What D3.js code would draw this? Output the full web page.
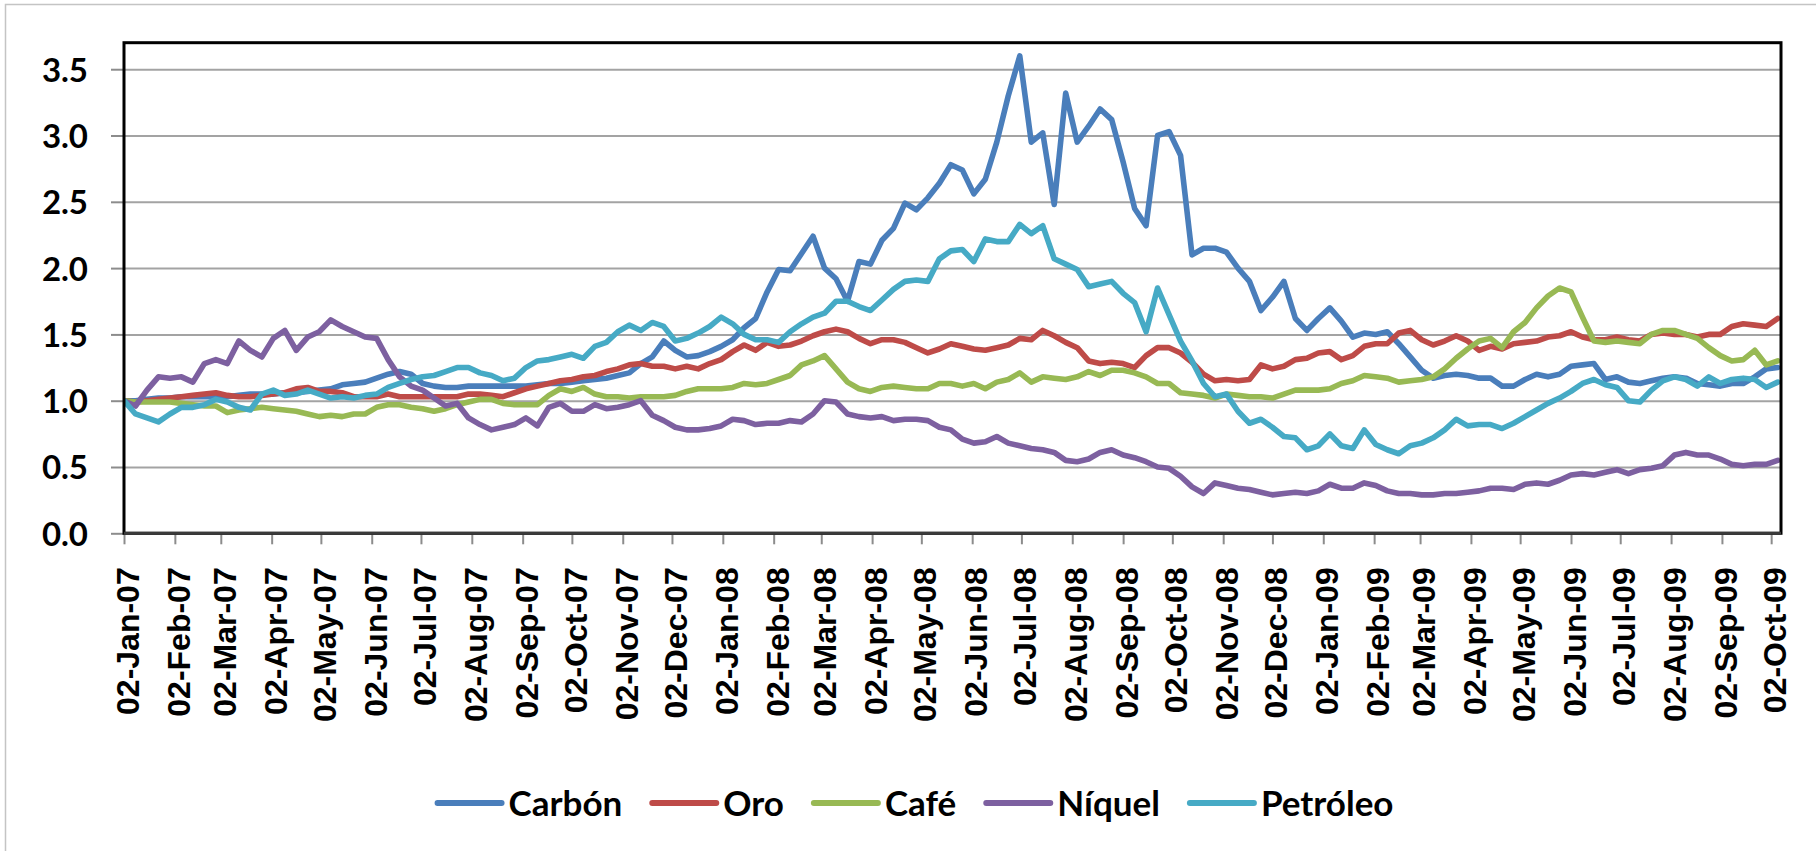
<!DOCTYPE html>
<html>
<head>
<meta charset="utf-8">
<script src="https://cdn.jsdelivr.net/npm/d3@7"></script>
<style>
html,body{margin:0;padding:0;background:#fff;overflow:hidden}
</style>
</head>
<body>
<svg id="chart" width="1816" height="851"></svg>
<script>
// ---------------- DATA ----------------
const seriesNames = ["Carbón", "Oro", "Café", "Níquel", "Petróleo"];
const startDate = "2007-01-02";      // first observation
const stepDays = 7;                  // weekly sampling of the daily series
const endDate = "2009-10-08";        // end of the date axis

const carbon = [
1.00,1.00,1.01,1.02,1.02,1.03,1.03,1.03,1.03,1.03,
1.04,1.05,1.05,1.05,1.06,1.06,1.07,1.08,1.09,1.12,
1.13,1.14,1.17,1.20,1.22,1.20,1.13,1.11,1.10,1.10,
1.11,1.11,1.11,1.11,1.11,1.11,1.12,1.13,1.13,1.14,
1.15,1.16,1.17,1.19,1.21,1.28,1.33,1.45,1.38,1.33,
1.34,1.37,1.41,1.46,1.55,1.62,1.82,1.99,1.98,2.11,
2.24,2.00,1.92,1.75,2.05,2.03,2.21,2.30,2.49,2.44,
2.53,2.64,2.78,2.74,2.56,2.67,2.95,3.30,3.60,2.95,
3.02,2.48,3.32,2.95,3.07,3.20,3.12,2.80,2.45,2.32,
3.00,3.03,2.85,2.10,2.15,2.15,2.12,2.00,1.90,1.68,
1.78,1.90,1.62,1.53,1.62,1.70,1.60,1.48,1.51,1.50,
1.52,1.43,1.33,1.23,1.17,1.19,1.20,1.19,1.17,1.17,
1.11,1.11,1.16,1.20,1.18,1.20,1.26,1.27,1.28,1.16,
1.18,1.14,1.13,1.15,1.17,1.18,1.17,1.13,1.12,1.11,
1.13,1.13,1.18,1.24,1.25];

const oro = [
1.00,0.99,1.00,1.01,1.02,1.03,1.04,1.05,1.06,1.04,
1.03,1.03,1.04,1.05,1.06,1.09,1.10,1.07,1.07,1.06,
1.03,1.03,1.03,1.05,1.03,1.03,1.03,1.03,1.03,1.03,
1.05,1.05,1.04,1.03,1.06,1.09,1.11,1.13,1.15,1.16,
1.18,1.19,1.22,1.24,1.27,1.28,1.26,1.26,1.24,1.26,
1.24,1.28,1.31,1.37,1.42,1.38,1.44,1.41,1.42,1.45,
1.49,1.52,1.54,1.52,1.47,1.43,1.46,1.46,1.44,1.40,
1.36,1.39,1.43,1.41,1.39,1.38,1.40,1.42,1.47,1.46,
1.53,1.49,1.44,1.40,1.30,1.28,1.29,1.28,1.25,1.34,
1.40,1.40,1.36,1.29,1.20,1.15,1.16,1.15,1.16,1.27,
1.24,1.26,1.31,1.32,1.36,1.37,1.31,1.34,1.41,1.43,
1.43,1.51,1.53,1.46,1.42,1.45,1.49,1.45,1.38,1.41,
1.39,1.43,1.44,1.45,1.48,1.49,1.52,1.48,1.46,1.46,
1.48,1.46,1.45,1.50,1.51,1.50,1.50,1.48,1.50,1.50,
1.56,1.58,1.57,1.56,1.62];

const cafe = [
1.00,0.99,0.99,0.99,0.99,0.98,0.97,0.96,0.96,0.91,
0.93,0.94,0.95,0.94,0.93,0.92,0.90,0.88,0.89,0.88,
0.90,0.90,0.95,0.97,0.97,0.95,0.94,0.92,0.94,0.97,
0.99,1.01,1.01,0.98,0.97,0.97,0.97,1.04,1.09,1.07,
1.10,1.05,1.03,1.03,1.02,1.03,1.03,1.03,1.04,1.07,
1.09,1.09,1.09,1.10,1.13,1.12,1.13,1.16,1.19,1.27,
1.30,1.34,1.24,1.14,1.09,1.07,1.10,1.11,1.10,1.09,
1.09,1.13,1.13,1.11,1.13,1.09,1.14,1.16,1.21,1.14,
1.18,1.17,1.16,1.18,1.22,1.19,1.23,1.23,1.21,1.18,
1.13,1.13,1.06,1.05,1.04,1.02,1.05,1.04,1.03,1.03,
1.02,1.05,1.08,1.08,1.08,1.09,1.13,1.15,1.19,1.18,
1.17,1.14,1.15,1.16,1.18,1.24,1.32,1.39,1.45,1.47,
1.40,1.52,1.59,1.70,1.79,1.85,1.82,1.63,1.45,1.44,
1.45,1.44,1.43,1.50,1.53,1.53,1.50,1.47,1.40,1.34,
1.30,1.31,1.38,1.27,1.30];

const niquel = [
1.00,0.96,1.08,1.18,1.17,1.18,1.14,1.28,1.31,1.28,
1.45,1.38,1.33,1.47,1.53,1.38,1.48,1.52,1.61,1.56,
1.52,1.48,1.47,1.31,1.18,1.11,1.08,1.02,0.96,0.98,
0.87,0.82,0.78,0.80,0.82,0.87,0.81,0.95,0.98,0.92,
0.92,0.97,0.94,0.95,0.97,1.00,0.89,0.85,0.80,0.78,
0.78,0.79,0.81,0.86,0.85,0.82,0.83,0.83,0.85,0.84,
0.90,1.00,0.99,0.90,0.88,0.87,0.88,0.85,0.86,0.86,
0.85,0.80,0.78,0.71,0.68,0.69,0.73,0.68,0.66,0.64,
0.63,0.61,0.55,0.54,0.56,0.61,0.63,0.59,0.57,0.54,
0.50,0.49,0.43,0.35,0.30,0.38,0.36,0.34,0.33,0.31,
0.29,0.30,0.31,0.30,0.32,0.37,0.34,0.34,0.38,0.36,
0.32,0.30,0.30,0.29,0.29,0.30,0.30,0.31,0.32,0.34,
0.34,0.33,0.37,0.38,0.37,0.40,0.44,0.45,0.44,0.46,
0.48,0.45,0.48,0.49,0.51,0.59,0.61,0.59,0.59,0.56,
0.52,0.51,0.52,0.52,0.55];

const petroleo = [
1.00,0.90,0.87,0.84,0.90,0.95,0.95,0.97,1.01,0.99,
0.95,0.93,1.05,1.08,1.04,1.05,1.08,1.05,1.02,1.03,
1.02,1.04,1.05,1.10,1.13,1.16,1.18,1.19,1.22,1.25,
1.25,1.21,1.19,1.15,1.17,1.25,1.30,1.31,1.33,1.35,
1.32,1.41,1.44,1.52,1.57,1.53,1.59,1.56,1.45,1.47,
1.51,1.56,1.63,1.58,1.50,1.46,1.46,1.44,1.52,1.58,
1.63,1.66,1.75,1.75,1.71,1.68,1.76,1.84,1.90,1.91,
1.90,2.07,2.13,2.14,2.05,2.22,2.20,2.20,2.33,2.26,
2.32,2.07,2.03,1.99,1.86,1.88,1.90,1.81,1.74,1.52,
1.85,1.65,1.45,1.30,1.13,1.03,1.05,0.92,0.83,0.86,
0.80,0.73,0.72,0.63,0.66,0.75,0.66,0.64,0.78,0.67,
0.63,0.60,0.66,0.68,0.72,0.78,0.86,0.81,0.82,0.82,
0.79,0.83,0.88,0.93,0.98,1.02,1.07,1.13,1.16,1.12,
1.10,1.00,0.99,1.08,1.15,1.18,1.16,1.11,1.18,1.13,
1.16,1.17,1.16,1.10,1.14];

const tickLabels = [
"02-Jan-07","02-Feb-07","02-Mar-07","02-Apr-07","02-May-07","02-Jun-07",
"02-Jul-07","02-Aug-07","02-Sep-07","02-Oct-07","02-Nov-07","02-Dec-07",
"02-Jan-08","02-Feb-08","02-Mar-08","02-Apr-08","02-May-08","02-Jun-08",
"02-Jul-08","02-Aug-08","02-Sep-08","02-Oct-08","02-Nov-08","02-Dec-08",
"02-Jan-09","02-Feb-09","02-Mar-09","02-Apr-09","02-May-09","02-Jun-09",
"02-Jul-09","02-Aug-09","02-Sep-09","02-Oct-09"];
const yTicks = [0, 0.5, 1.0, 1.5, 2.0, 2.5, 3.0, 3.5];
const yMax = 3.7;

const seriesValues = [carbon, oro, cafe, niquel, petroleo];
const colors = ["#4a7ebb", "#be4b48", "#98b954", "#7d60a0", "#46aac5"];

// ---------------- LAYOUT ----------------
const W = 1816, H = 851;
const plot = {left: 124, right: 1781, top: 42.7, bottom: 533.3};

const svg = d3.select("#chart");
svg.append("rect").attr("width", W).attr("height", H).attr("fill", "#fff");
// outer chart-area border (runs off the right/bottom of the picture)
svg.append("rect").attr("x", 5.5).attr("y", 4.5).attr("width", W + 20).attr("height", H + 20)
  .attr("fill", "none").attr("stroke", "#c4c4c4").attr("stroke-width", 1.5);

const parseISO = d3.utcParse("%Y-%m-%d");
const parseTick = d3.utcParse("%d-%b-%y");
const t0 = parseISO(startDate);
const dates = carbon.map((_, i) => d3.utcDay.offset(t0, i * stepDays));
const tickDates = tickLabels.map(parseTick);

const x = d3.scaleUtc().domain([t0, parseISO(endDate)]).range([plot.left, plot.right]);
const y = d3.scaleLinear().domain([0, yMax]).range([plot.bottom, plot.top]);

// gridlines
const grid = svg.append("g").attr("transform", `translate(${plot.left},0)`)
  .call(d3.axisLeft(y).tickValues(yTicks.filter(v => v > 0)).tickSize(-(plot.right - plot.left)).tickFormat(""));
grid.select(".domain").remove();
grid.selectAll("line").attr("stroke", "#a3a3a3").attr("stroke-width", 2);

// y axis
const yAxis = svg.append("g").attr("transform", `translate(${plot.left},0)`)
  .call(d3.axisLeft(y).tickValues(yTicks).tickSize(13).tickPadding(23).tickFormat(d3.format(".1f")));
yAxis.select(".domain").remove();
yAxis.selectAll("line").attr("stroke", "#8c8c8c").attr("stroke-width", 2);
yAxis.selectAll("text")
  .attr("font-family", "Lato, 'Open Sans', sans-serif").attr("font-weight", 700)
  .attr("font-size", 33).attr("fill", "#000").attr("dy", "0.36em");

// x axis
const xAxis = svg.append("g").attr("transform", `translate(0,${plot.bottom})`)
  .call(d3.axisBottom(x).tickValues(tickDates).tickSize(11).tickFormat((d, i) => tickLabels[i]));
xAxis.select(".domain").remove();
xAxis.selectAll("line").attr("stroke", "#8c8c8c").attr("stroke-width", 2);
xAxis.selectAll("text")
  .attr("transform", "rotate(-90)")
  .attr("text-anchor", "end")
  .attr("x", -34).attr("y", 0).attr("dy", "0.45em")
  .attr("font-family", "'Liberation Sans', Arial, sans-serif").attr("font-weight", 700)
  .attr("font-size", 32).attr("fill", "#000");

// series lines
svg.append("clipPath").attr("id", "clip").append("rect")
  .attr("x", plot.left).attr("y", plot.top).attr("width", plot.right - plot.left).attr("height", plot.bottom - plot.top);
const line = d3.line().x((d, i) => x(dates[i])).y(d => y(d));
svg.append("g").attr("clip-path", "url(#clip)")
  .selectAll("path").data(seriesValues).join("path")
  .attr("d", d => line(d))
  .attr("fill", "none")
  .attr("stroke", (d, i) => colors[i])
  .attr("stroke-width", 5.6)
  .attr("stroke-linejoin", "round")
  .attr("stroke-linecap", "round");

// plot frame
svg.append("rect").attr("x", plot.left).attr("y", plot.top)
  .attr("width", plot.right - plot.left).attr("height", plot.bottom - plot.top)
  .attr("fill", "none").attr("stroke", "#000").attr("stroke-width", 3);
svg.append("line").attr("x1", plot.left).attr("x2", plot.right)
  .attr("y1", plot.bottom).attr("y2", plot.bottom)
  .attr("stroke", "#3a3a3a").attr("stroke-width", 3);

// legend
const legY = 803;
const lineLen = 64, lineGap = 7, itemGap = 30;
const leg = svg.append("g");
const items = leg.selectAll("g").data(seriesNames).join("g");
items.append("line").attr("x1", 0).attr("x2", lineLen).attr("y1", 0).attr("y2", 0)
  .attr("stroke", (d, i) => colors[i]).attr("stroke-width", 6).attr("stroke-linecap", "round");
items.append("text").attr("x", lineLen + lineGap).attr("y", 0).attr("dy", "0.36em")
  .attr("font-family", "Lato, 'Open Sans', sans-serif").attr("font-weight", 700)
  .attr("font-size", 35).attr("fill", "#000").text(d => d);
let cx = 0;
const offs = [];
items.each(function () {
  const tw = d3.select(this).select("text").node().getComputedTextLength();
  offs.push(cx);
  cx += lineLen + lineGap + tw + itemGap;
});
const total = cx - itemGap;
const legStart = 915.5 - total / 2;
items.attr("transform", (d, i) => `translate(${legStart + offs[i]},${legY})`);
</script>
</body>
</html>
